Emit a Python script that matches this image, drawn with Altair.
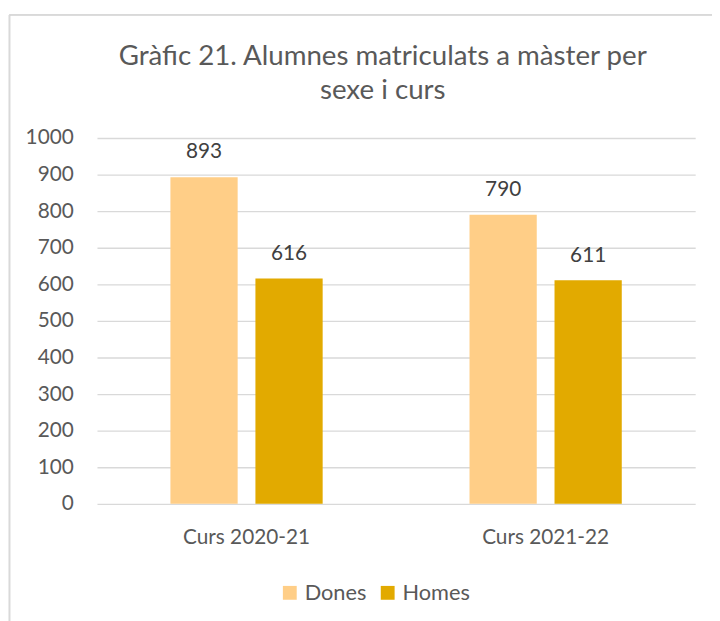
import altair as alt
import pandas as pd

cursos = ["Curs 2020-21", "Curs 2021-22"]
sexes = ["Dones", "Homes"]
dones = [893, 790]
homes = [616, 611]
colors = ["#FFCE87", "#E2AA00"]
y_ticks = [0, 100, 200, 300, 400, 500, 600, 700, 800, 900, 1000]
title_text = "Gràfic 21. Alumnes matriculats a màster per\nsexe i curs"

rows = []
for i, c in enumerate(cursos):
    rows.append({"curs": c, "sexe": "Dones", "valor": dones[i]})
    rows.append({"curs": c, "sexe": "Homes", "valor": homes[i]})
df = pd.DataFrame(rows)

FONT = "Lato"
GREY = "#595959"

x_enc = alt.X("curs:N", sort=cursos, title=None,
              scale=alt.Scale(paddingInner=0.491, paddingOuter=0.2455),
              axis=alt.Axis(labelAngle=0, labelFontSize=21, labelColor=GREY, labelFont=FONT,
                            domain=False, ticks=False, labelPadding=23, grid=False))
xoff = alt.XOffset("sexe:N", sort=sexes, scale=alt.Scale(paddingInner=0.209, paddingOuter=0))
y_enc = alt.Y("valor:Q", title=None,
              scale=alt.Scale(domain=[0, 1000], nice=False),
              axis=alt.Axis(values=y_ticks, tickCount=11, format="d", labelOverlap=False,
                            labelFontSize=21, labelColor=GREY, labelFont=FONT,
                            domain=False, ticks=False, labelPadding=24,
                            gridColor="#D9D9D9", gridWidth=1.3))

bars = alt.Chart(df).mark_bar().encode(
    x=x_enc, xOffset=xoff, y=y_enc,
    color=alt.Color("sexe:N", sort=sexes, scale=alt.Scale(domain=sexes, range=colors),
                    legend=alt.Legend(title=None, orient="none", direction="horizontal",
                                      legendX=184, legendY=449, symbolType="square",
                                      symbolSize=196, labelFontSize=22, labelFont=FONT,
                                      labelColor=GREY, columnPadding=10, labelOffset=4)),
)

labels = alt.Chart(df).mark_text(baseline="bottom", dy=-15, fontSize=21, font=FONT,
                                 color="#404040").encode(
    x=x_enc, xOffset=xoff, y=y_enc, text="valor:Q",
)

title = alt.Chart(pd.DataFrame({"t": [title_text]})).mark_text(
    align="center", baseline="bottom", fontSize=28, font=FONT, color=GREY,
    lineBreak="\n", lineHeight=34,
).encode(x=alt.value(289), y=alt.value(-67.5), text="t:N")

frame_top = alt.Chart(df).mark_rule(color="#D9D9D9", strokeWidth=1.3).encode(
    x=alt.value(-88.5), x2=alt.value(700), y=alt.value(-124.5))
frame_left = alt.Chart(df).mark_rule(color="#D9D9D9", strokeWidth=1.3).encode(
    x=alt.value(-88.5), y=alt.value(-124.5), y2=alt.value(490))

chart = alt.layer(frame_top, frame_left, title, bars, labels).properties(
    width=605, height=370,
    autosize=alt.AutoSizeParams(type="none"),
    padding={"left": 90, "top": 128, "right": 17, "bottom": 115},
).configure_view(stroke=None)

chart.save("out.html", embed_options={"renderer": "svg", "actions": False})
